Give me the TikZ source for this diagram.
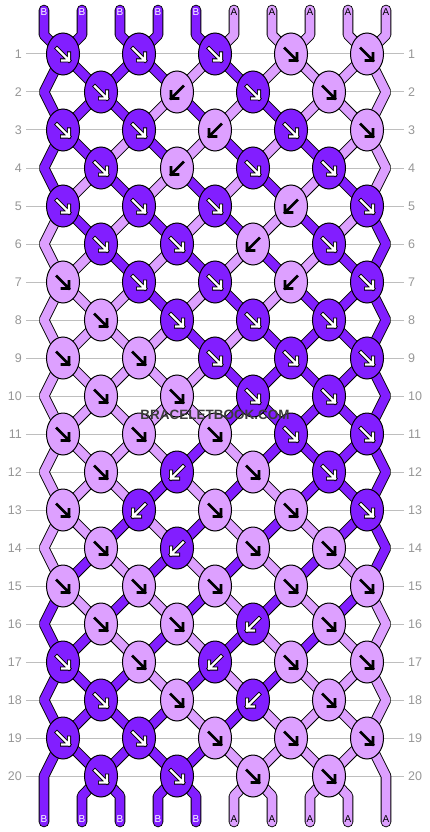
\documentclass[tikz,border=0pt]{standalone}
\usepackage{fontspec}
\setmainfont{Liberation Sans}
\usetikzlibrary{shapes.geometric}

\definecolor{strA}{RGB}{221,160,255}
\definecolor{strB}{RGB}{130,30,255}
\definecolor{rowgray}{RGB}{190,190,190}
\definecolor{numgray}{RGB}{150,150,150}
\definecolor{markgray}{RGB}{60,60,60}

\tikzset{
  strand/.style={draw=black, line width=0.9pt, double distance=8.8pt, line join=bevel},
  knotoval/.style={ellipse, draw=black, line width=1pt, minimum width=33pt, minimum height=42pt, inner sep=0pt},
  arrB/.style={draw=black, double=white, line width=0.8pt, double distance=2.4pt, line join=miter, line cap=rect},
  arrA/.style={draw=black, line width=2.6pt, line join=miter, line cap=rect},
  rownum/.style={text=numgray, font=\fontsize{12.5}{13}\selectfont, inner sep=0pt},
  endB/.style={text=white, font=\fontsize{10}{10}\selectfont, inner sep=0pt},
  endA/.style={text=black, font=\fontsize{10}{10}\selectfont, inner sep=0pt},
  wmark/.style={font=\bfseries\fontsize{13.5}{14}\selectfont, inner sep=0pt},
}

\begin{document}
\begin{tikzpicture}[x=1pt, y=-1pt]
\useasboundingbox (0,0) rectangle (430,832);

% row guide lines and numbers
\foreach \r in {1,...,20}{
  \pgfmathsetmacro\py{54+38*(\r-1)}
  \draw[rowgray, line width=1pt] (26,\py) -- (404,\py);
  \node[rownum, anchor=east] (numL\r) at (22,\py) {\r};
  \node[rownum, anchor=west] (numR\r) at (408,\py) {\r};
}

% where each string passes in each row
\foreach \r in {1,...,20}
  \foreach \i in {1,...,10}{
    \pgfmathsetmacro\px{44+38*(\i-1)+19*(1-2*mod(\r+\i,2))*(1-(1-mod(\r,2))*((\i==1)+(\i==10)))}
    \pgfmathsetmacro\py{54+38*(\r-1)}
    \coordinate (p\r-\i) at (\px,\py);
  }
\foreach \i in {1,...,10}{
  \pgfmathsetmacro\px{44+38*(\i-1)}
  \coordinate (top\i) at (\px,10);
  \coordinate (topb\i) at (\px,35);
  \coordinate (botb\i) at (\px,796);
  \coordinate (bot\i) at (\px,822);
}

% strings between rows (colour of each position after row \r)
\foreach \r/\st in {0/{B,B,B,B,B,A,A,A,A,A}, 1/{B,B,B,B,A,B,A,A,A,A},
    2/{B,B,B,A,B,A,B,A,A,A}, 3/{B,B,A,B,A,B,A,B,A,A}, 4/{B,A,B,A,B,A,B,A,B,A},
    5/{A,B,A,B,A,B,A,B,A,B}, 6/{A,A,B,A,B,A,B,A,B,B}, 7/{A,A,A,B,A,B,A,B,B,B},
    8/{A,A,A,A,B,A,B,B,B,B}, 9/{A,A,A,A,A,B,B,B,B,B}, 10/{A,A,A,A,A,B,B,B,B,B},
    11/{A,A,A,A,B,A,B,B,B,B}, 12/{A,A,A,B,A,B,A,B,B,B}, 13/{A,A,B,A,B,A,B,A,B,B},
    14/{A,B,A,B,A,B,A,B,A,B}, 15/{B,A,B,A,B,A,B,A,B,A}, 16/{B,B,A,B,A,B,A,B,A,A},
    17/{B,B,B,A,B,A,B,A,A,A}, 18/{B,B,B,B,A,B,A,A,A,A}, 19/{B,B,B,B,B,A,A,A,A,A},
    20/{B,B,B,B,B,A,A,A,A,A}}{
  \pgfmathtruncatemacro\ra{\r+1}
  \pgfmathtruncatemacro\rb{\r+2}
  \foreach \c [count=\i] in \st {
    \pgfmathtruncatemacro\isedge{(\i==1)+(\i==10)}
    \ifnum\r=0
      \draw[strand, double=str\c, line cap=round] (top\i) -- (topb\i) -- (p1-\i);
    \else\ifnum\r=20
      \ifnum\isedge=0 \draw[strand, double=str\c, line cap=round] (p20-\i) -- (botb\i) -- (bot\i); \fi
    \else\ifnum\isedge=0
      \draw[strand, double=str\c] (p\r-\i) -- (p\ra-\i);
    \else\ifodd\r
      \ifnum\r=19 \draw[strand, double=str\c, line cap=round] (p19-\i) -- (p20-\i) -- (bot\i);
      \else \draw[strand, double=str\c] (p\r-\i) -- (p\ra-\i) -- (p\rb-\i); \fi
    \fi\fi\fi\fi
  }
}

% knots: colour / direction (1 = forward, -1 = backward)
\foreach \r/\kn in {1/{B/1,B/1,B/1,A/1,A/1}, 2/{B/1,A/-1,B/1,A/1},
    3/{B/1,B/1,A/-1,B/1,A/1}, 4/{B/1,A/-1,B/1,B/1}, 5/{B/1,B/1,B/1,A/-1,B/1},
    6/{B/1,B/1,A/-1,B/1}, 7/{A/1,B/1,B/1,A/-1,B/1}, 8/{A/1,B/1,B/1,B/1},
    9/{A/1,A/1,B/1,B/1,B/1}, 10/{A/1,A/1,B/1,B/1}, 11/{A/1,A/1,A/1,B/1,B/1},
    12/{A/1,B/-1,A/1,B/1}, 13/{A/1,B/-1,A/1,A/1,B/1}, 14/{A/1,B/-1,A/1,A/1},
    15/{A/1,A/1,A/1,A/1,A/1}, 16/{A/1,A/1,B/-1,A/1}, 17/{B/1,A/1,B/-1,A/1,A/1},
    18/{B/1,A/1,B/-1,A/1}, 19/{B/1,B/1,A/1,A/1,A/1}, 20/{B/1,B/1,A/1,A/1}}{
  \foreach \c/\d [count=\j] in \kn {
    \pgfmathtruncatemacro\i{2*\j-mod(\r,2)}
    \node[knotoval, fill=str\c] (k\r-\j) at (p\r-\i) {};
    \draw[arr\c, shift={(k\r-\j.center)}, xscale=\d] (-6,-5.5) -- (6,6.5) (-1,6.5) -- (6,6.5) -- (6,-0.5);
  }
}

% string letters at both ends
\foreach \c [count=\i] in {B,B,B,B,B,A,A,A,A,A}{
  \node[end\c] (endT\i) at ([yshift=-2.5pt]top\i) {\c};
  \node[end\c] (endB\i) at ([yshift=2.5pt]bot\i) {\c};
}

% watermark
\node[wmark, text=markgray] (site) at (215,415) {BRACELETBOOK.COM};
\end{tikzpicture}
\end{document}
